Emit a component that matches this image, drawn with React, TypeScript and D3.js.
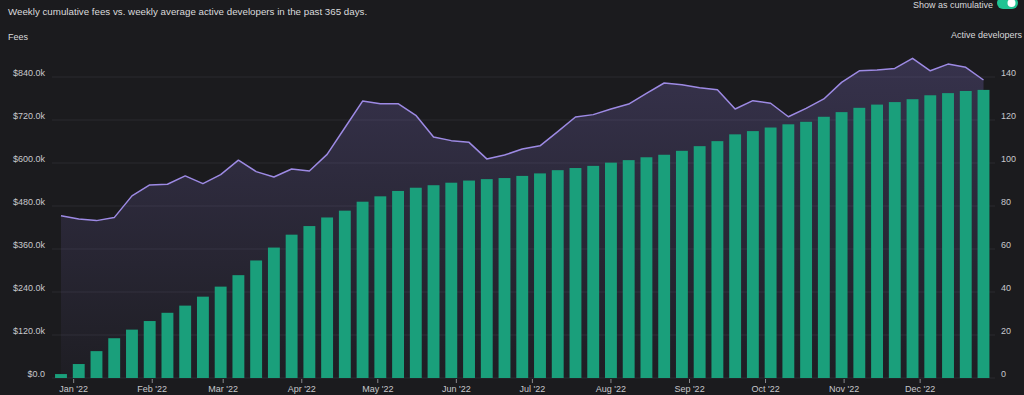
import React from "react";
import * as d3 from "d3";

const FIRST_WEEK = "2021-12-27";
const fees: number[] = [
  11, 39, 75, 111, 135, 159, 182, 202, 227, 255, 287, 328, 364, 400,
  424, 448, 467, 492, 507, 522, 531, 538, 545, 551, 555, 558, 564, 571,
  580, 586, 592, 601, 608, 616, 623, 634, 647, 661, 680, 689, 699,
  708, 715, 729, 742, 754, 763, 770, 778, 789, 795, 801, 804,
].map((v) => v * 1000);
const developers: number[] = [
  75.5, 74, 73.2, 74.6, 84.7, 89.8, 90.1, 94, 90.4, 94.6, 101.3, 96, 93.5, 97.2,
  96.3, 104, 116.4, 128.8, 127.6, 127.6, 122.2, 112.1, 110.4, 109.6, 101.9, 103.7, 106.5, 108,
  114.6, 121.4, 122.5, 125.1, 127.4, 132.4, 137.2, 136.4, 135, 134.1, 125.1, 129, 127.8,
  121.5, 125.4, 129.8, 137.5, 142.9, 143.3, 144, 148.7, 142.9, 146, 144.5, 138.6,
];
const feeTicks: number[] = [0, 120000, 240000, 360000, 480000, 600000, 720000, 840000];
const devTicks: number[] = [0, 20, 40, 60, 80, 100, 120, 140];
const monthTicks: string[] = [
  "2022-01-01", "2022-02-01", "2022-03-01", "2022-04-01", "2022-05-01", "2022-06-01",
  "2022-07-01", "2022-08-01", "2022-09-01", "2022-10-01", "2022-11-01", "2022-12-01",
];

const W = 1024;
const H = 395;
const BG = "#1b1b1e";
const FONT = "'Liberation Sans', Arial, sans-serif";

export default function App() {
  const start = new Date(FIRST_WEEK + "T00:00:00Z");
  const dates = fees.map((_, i) => d3.utcDay.offset(start, i * 7));
  const x = d3
    .scaleUtc()
    .domain([dates[0], dates[dates.length - 1]])
    .range([61, 983.5]);
  const yL = d3.scaleLinear().domain([0, 840000]).range([378, 77]);
  const yR = d3.scaleLinear().domain([0, 140]).range([378, 77]);
  const step = x(dates[1]) - x(dates[0]);
  const bw = step * 0.67;

  const line = d3
    .line<number>()
    .x((_, i) => x(dates[i]))
    .y((d) => yR(d));
  const area = d3
    .area<number>()
    .x((_, i) => x(dates[i]))
    .y0(yR(0))
    .y1((d) => yR(d));

  const fmtFee = (v: number) => (v === 0 ? "$0.0" : `$${(v / 1000).toFixed(1)}k`);
  const fmtMonth = d3.utcFormat("%b '%y");

  return (
    <svg
      width={W}
      height={H}
      style={{ position: "absolute", left: 0, top: 0, background: BG }}
      fontFamily={FONT}
    >
      <defs>
        <linearGradient id="areaGrad" gradientUnits="userSpaceOnUse" x1="0" y1="55" x2="0" y2="378">
          <stop offset="0" stopColor="#8a78d8" stopOpacity={0.25} />
          <stop offset="1" stopColor="#8a78d8" stopOpacity={0.03} />
        </linearGradient>
      </defs>
      <rect x={0} y={0} width={W} height={H} fill={BG} />

      <text x={8} y={15} fontSize={9.75} fill="#dadadc">
        Weekly cumulative fees vs. weekly average active developers in the past 365 days.
      </text>
      <text x={8} y={40} fontSize={9} fill="#dadadc">
        Fees
      </text>
      <text x={993} y={8} fontSize={9} fill="#dadadc" textAnchor="end">
        Show as cumulative
      </text>
      <rect x={997} y={-3} width={21} height={12} rx={6} fill="#1fc493" />
      <circle cx={1011.5} cy={3} r={4} fill="#ffffff" />
      <text x={1022} y={38} fontSize={9} fill="#dadadc" textAnchor="end">
        Active developers
      </text>

      {feeTicks.map((t) => (
        <line key={"g" + t} x1={52} x2={995} y1={yL(t)} y2={yL(t)} stroke="#2a2a2e" strokeWidth={1} />
      ))}

      <path d={area(developers) ?? ""} fill="url(#areaGrad)" />

      {fees.map((v, i) => (
        <rect
          key={"b" + i}
          x={x(dates[i]) - bw / 2}
          y={yL(v)}
          width={bw}
          height={yL(0) - yL(v)}
          fill="#1a9f7b"
        />
      ))}

      <path d={line(developers) ?? ""} fill="none" stroke="#9d8ae4" strokeWidth={1.5} strokeLinejoin="round" />

      {feeTicks.map((t) => (
        <text key={"l" + t} x={45} y={yL(t) - 1.5} fontSize={9} fill="#c8c8cc" textAnchor="end">
          {fmtFee(t)}
        </text>
      ))}
      {devTicks.map((t) => (
        <text key={"r" + t} x={1001} y={yR(t) - 1.5} fontSize={9} fill="#c8c8cc">
          {t}
        </text>
      ))}
      {monthTicks.map((m) => {
        const d = new Date(m + "T00:00:00Z");
        const px = x(d);
        return (
          <g key={m}>
            <line x1={px} x2={px} y1={379} y2={383} stroke="#8a8a8e" strokeWidth={1} />
            <text x={px} y={392} fontSize={9} fill="#c8c8cc" textAnchor="middle">
              {fmtMonth(d)}
            </text>
          </g>
        );
      })}
    </svg>
  );
}
